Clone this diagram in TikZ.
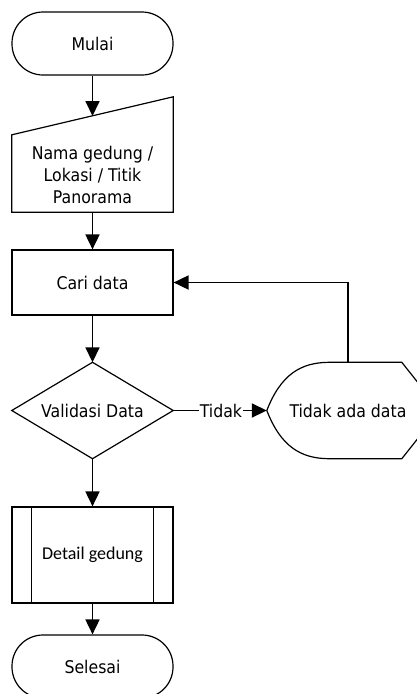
\documentclass[tikz,border=0pt]{standalone}
\usepackage{fontspec}
\setmainfont{DejaVu Sans Condensed}
\newfontfamily\calib{Carlito}
\usetikzlibrary{arrows.meta,calc}
\begin{document}
\begin{tikzpicture}[x=1pt,y=-1pt,
 box/.style={draw,line width=1.2pt,inner sep=0pt,minimum width=161pt},
 term/.style={box,rounded corners=31pt,minimum height=63pt},
 ghost/.style={inner sep=0pt,minimum width=161pt},
 outl/.style={line width=1.2pt,line join=miter},
 conn/.style={line width=1.8pt,-{Triangle[width=14pt,length=15pt]}},
 plainconn/.style={line width=1.8pt},
 lbl/.style={font=\fontsize{17.5}{22}\selectfont,align=center}]
\clip (0,0) rectangle (417,694);
\fill[white] (0,0) rectangle (417,694);

% nodes
\node[term,lbl] (mulai) at (92.5,43.5) {Mulai};
\node[ghost,minimum height=115pt] (input) at (92.5,154.5) {};
\node[lbl] (inputtxt) at (92.5,175) {Nama gedung /\\Lokasi / Titik\\Panorama};
\coordinate (inTop) at (92.5,116);
\node[box,lbl,minimum height=65pt] (cari) at (92.5,282.5) {Cari data};
\node[ghost,lbl,minimum height=96pt] (valid) at (92.5,410.5) {Validasi Data};
\node[ghost,lbl,minimum width=162pt,minimum height=96pt] (disp) at (348,410.5) {Tidak ada data};
\node[lbl,inner sep=1pt] (tl) at (221,410.5) {Tidak};
\node[box,minimum height=96pt,font=\calib\fontsize{18}{22}\selectfont] (detail) at (92.5,555) {Detail gedung};
\node[term,lbl] (selesai) at (92.5,666.5) {Selesai};

% outlines
\draw[outl] (input.north east) -- (input.south east) -- (input.south west) -- ($(input.north west)+(0,38)$) -- cycle;
\draw[outl] (valid.north) -- (valid.east) -- (valid.south) -- (valid.west) -- cycle;
\draw[outl] (disp.west) .. controls ($(disp.west)+(14,-36)$) and ($(disp.west)+(34,-48)$) .. ($(disp.north west)+(62,0)$)
  -- ($(disp.north west)+(135,0)$) -- ($(disp.north west)+(162,34)$) -- ($(disp.south west)+(162,-34)$)
  -- ($(disp.south west)+(135,0)$) -- ($(disp.south west)+(62,0)$)
  .. controls ($(disp.west)+(34,48)$) and ($(disp.west)+(14,36)$) .. (disp.west);
\draw[outl] ($(detail.north west)+(20,0)$) -- ($(detail.south west)+(20,0)$);
\draw[outl] ($(detail.north east)+(-20,0)$) -- ($(detail.south east)+(-20,0)$);

% connectors
\draw[conn] (mulai) -- (inTop);
\draw[conn] (input.south) -- (cari.north);
\draw[conn] (cari.south) -- (valid.north);
\draw[plainconn] (valid.east) -- (tl.west);
\draw[conn] (tl.east) -- (disp.west);
\draw[conn] (disp.north) |- (cari.east);
\draw[conn] (valid.south) -- (detail.north);
\draw[conn] (detail.south) -- (selesai.north);
\end{tikzpicture}
\end{document}
